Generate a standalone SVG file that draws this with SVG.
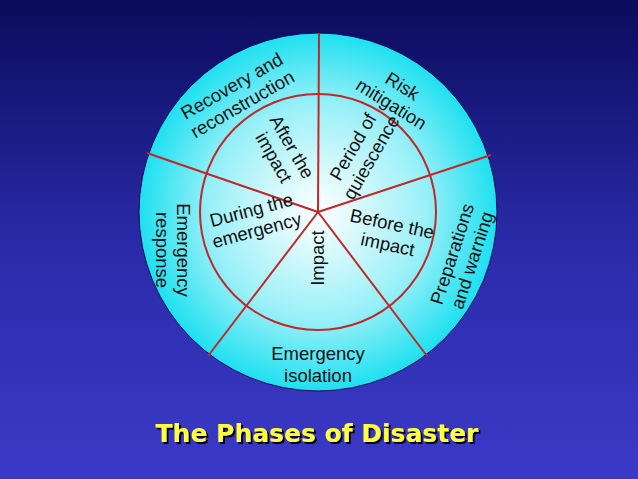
<svg xmlns="http://www.w3.org/2000/svg" width="638" height="479" viewBox="0 0 638 479">
<defs>
<linearGradient id="bg" x1="0" y1="0" x2="0" y2="1"><stop offset="0" stop-color="#0b0b5c"/><stop offset="0.5" stop-color="#2a2aa8"/><stop offset="1" stop-color="#3a3ac8"/></linearGradient>
<radialGradient id="cf" cx="0.5" cy="0.5" r="0.5"><stop offset="0" stop-color="#ffffff"/><stop offset="0.6" stop-color="#9af0f8"/><stop offset="1" stop-color="#1ee0f0"/></radialGradient>
<filter id="sh" x="-5%" y="-20%" width="110%" height="150%"><feDropShadow dx="2" dy="2" stdDeviation="0.6" flood-color="#000"/></filter>
<style>
.t{font-family:"Liberation Sans",Arial,sans-serif;font-size:18.5px;fill:#111;text-anchor:middle}
.l{stroke:#c0282a;stroke-width:2;fill:none}
.ti{font-family:"DejaVu Sans",sans-serif;font-weight:bold;font-size:25px;text-anchor:middle;fill:#ffff40;filter:url(#sh)}
</style>
</defs>
<rect width="638" height="479" fill="url(#bg)"/>
<g id="wheel">
<circle cx="318" cy="212" r="179" fill="url(#cf)" stroke="#0b0b5c" stroke-width="1"/>
<circle class="l" cx="318" cy="212" r="118"/>
</g>
<g id="connectors">
<line class="l" x1="318" y1="212" x2="319" y2="33"/>
<line class="l" x1="318" y1="212" x2="147" y2="153"/>
<line class="l" x1="318" y1="212" x2="491" y2="155"/>
<line class="l" x1="318" y1="212" x2="427" y2="356"/>
<line class="l" x1="318" y1="212" x2="208" y2="356"/>
</g>
<g id="recovery"><text class="t" transform="translate(237,95) rotate(-30)"><tspan x="0" y="-4">Recovery and</tspan><tspan x="0" y="17">reconstruction</tspan></text></g>
<g id="risk"><text class="t" transform="translate(397,95) rotate(32)"><tspan x="0" y="-4">Risk</tspan><tspan x="0" y="17">mitigation</tspan></text></g>
<g id="after"><text class="t" transform="translate(283,152) rotate(60)"><tspan x="0" y="-4">After the</tspan><tspan x="0" y="17">impact</tspan></text></g>
<g id="period"><text class="t" transform="translate(362,152) rotate(-60)"><tspan x="0" y="-4">Period of</tspan><tspan x="0" y="17">quiescence</tspan></text></g>
<g id="during"><text class="t" transform="translate(254,220) rotate(-15)"><tspan x="0" y="-4">During the</tspan><tspan x="0" y="17">emergency</tspan></text></g>
<g id="before"><text class="t" transform="translate(390,234) rotate(12)"><tspan x="0" y="-4">Before the</tspan><tspan x="0" y="17">impact</tspan></text></g>
<g id="impact"><text class="t" transform="translate(318,258) rotate(-90)"><tspan x="0" y="6">Impact</tspan></text></g>
<g id="response"><text class="t" transform="translate(173,250) rotate(90)"><tspan x="0" y="-4">Emergency</tspan><tspan x="0" y="17">response</tspan></text></g>
<g id="prep"><text class="t" transform="translate(462,257) rotate(-72)"><tspan x="0" y="-4">Preparations</tspan><tspan x="0" y="17">and warning</tspan></text></g>
<g id="isolation"><text class="t"><tspan x="318" y="360">Emergency</tspan><tspan x="318" y="382">isolation</tspan></text></g>
<g id="title"><text class="ti" x="317" y="442">The Phases of Disaster</text></g>
</svg>
